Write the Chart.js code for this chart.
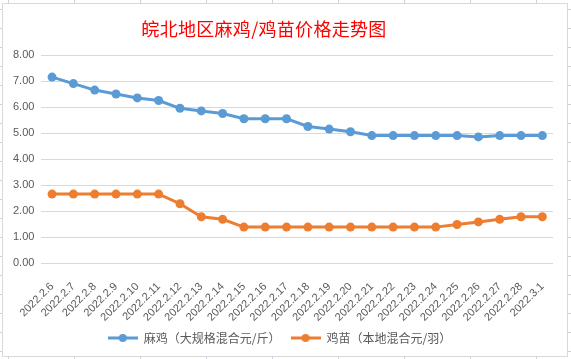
<!DOCTYPE html>
<html>
<head>
<meta charset="utf-8">
<script src="https://cdn.jsdelivr.net/npm/chart.js@4"></script>
<style>
  html, body { margin: 0; padding: 0; }
  body {
    width: 571px; height: 359px; position: relative; overflow: hidden;
    background-color: #ffffff;
    background-image:
      linear-gradient(to right, #cfd0dc 1px, transparent 1px),
      linear-gradient(to bottom, #cfd0dc 1px, transparent 1px);
    background-size: 66px 100%, 100% 19px;
    background-position: 8px 0, 0 9px;
  }
  #box {
    position: absolute; left: 2px; top: 3px; width: 564px; height: 352px;
    border: 1px solid #d9d9d9; background: #ffffff;
  }
  #title {
    position: absolute; left: 0; top: 12px; width: 522px; text-align: center;
    font-family: "Noto Sans CJK SC", sans-serif; font-size: 18px; line-height: 24px;
    color: #ff0000; letter-spacing: 0.3px;
  }
  canvas { display: block; }
</style>
</head>
<body>
<div id="box">
  <div id="title">皖北地区麻鸡/鸡苗价格走势图</div>
  <canvas id="c" width="564" height="352"></canvas>
</div>
<script>
const categories = ['2022.2.6','2022.2.7','2022.2.8','2022.2.9','2022.2.10','2022.2.11','2022.2.12',
  '2022.2.13','2022.2.14','2022.2.15','2022.2.16','2022.2.17','2022.2.18','2022.2.19','2022.2.20',
  '2022.2.21','2022.2.22','2022.2.23','2022.2.24','2022.2.25','2022.2.26','2022.2.27','2022.2.28','2022.3.1'];
const majiName = '麻鸡（大规格混合元/斤）';
const jimiaoName = '鸡苗（本地混合元/羽）';
const majiPrices = [7.15,6.9,6.65,6.5,6.35,6.25,5.95,5.85,5.75,5.55,5.55,5.55,5.25,5.15,5.05,
  4.9,4.9,4.9,4.9,4.9,4.85,4.9,4.9,4.9];
const jimiaoPrices = [2.65,2.65,2.65,2.65,2.65,2.65,2.28,1.78,1.68,1.38,1.38,1.38,1.38,1.38,1.38,
  1.38,1.38,1.38,1.38,1.48,1.58,1.68,1.78,1.78];
const yTicks = [0,1,2,3,4,5,6,7,8];

const BLUE = '#5b9bd5', ORANGE = '#ed7d31';

function makeIcon(color) {
  const cv = document.createElement('canvas');
  cv.width = 30; cv.height = 10;
  const g = cv.getContext('2d');
  g.strokeStyle = color; g.lineWidth = 3;
  g.beginPath(); g.moveTo(0, 5); g.lineTo(30, 5); g.stroke();
  g.fillStyle = color;
  g.beginPath(); g.arc(15, 5, 4, 0, Math.PI * 2); g.fill();
  return cv;
}
const icons = [makeIcon(BLUE), makeIcon(ORANGE)];

new Chart(document.getElementById('c'), {
  type: 'line',
  data: {
    labels: categories,
    datasets: [
      { label: majiName, data: majiPrices, borderColor: BLUE, backgroundColor: BLUE,
        borderWidth: 3, pointRadius: 4.5, pointHoverRadius: 4.5, pointBorderWidth: 0, tension: 0 },
      { label: jimiaoName, data: jimiaoPrices, borderColor: ORANGE, backgroundColor: ORANGE,
        borderWidth: 3, pointRadius: 4.5, pointHoverRadius: 4.5, pointBorderWidth: 0, tension: 0 }
    ]
  },
  options: {
    responsive: false,
    animation: false,
    events: [],
    layout: { padding: { left: 3, right: 14, top: 51, bottom: 2 } },
    scales: {
      x: {
        offset: true,
        grid: { display: false },
        border: { display: false },
        afterFit: (s) => { s.height = 59; },
        ticks: {
          color: '#595959', font: { family: 'Liberation Sans', size: 11 },
          minRotation: 45, maxRotation: 45, autoSkip: false, padding: 9
        }
      },
      y: {
        min: 0, max: 8,
        afterBuildTicks: (axis) => { axis.ticks = yTicks.map(v => ({ value: v })); },
        grid: { color: '#d9d9d9', lineWidth: 1, drawTicks: false },
        border: { display: false },
        ticks: {
          color: '#595959', font: { family: 'Liberation Sans', size: 11 }, padding: 7,
          callback: (v) => Number(v).toFixed(2)
        }
      }
    },
    plugins: {
      title: { display: false },
      tooltip: { enabled: false },
      legend: {
        position: 'bottom',
        labels: {
          color: '#595959', font: { family: 'Noto Sans CJK SC', size: 12 },
          usePointStyle: true, pointStyleWidth: 30, padding: 10,
          generateLabels: (chart) => {
            const items = Chart.defaults.plugins.legend.labels.generateLabels(chart);
            items.forEach((it, i) => { it.pointStyle = icons[i]; });
            return items;
          }
        }
      }
    }
  }
});
</script>
</body>
</html>
